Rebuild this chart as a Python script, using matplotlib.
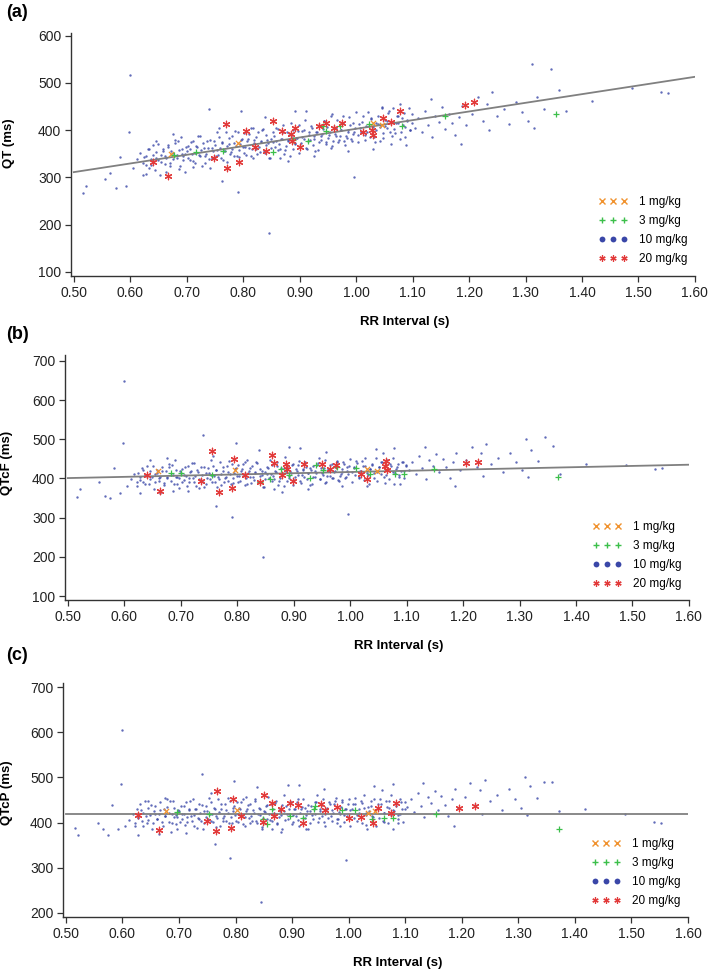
import numpy as np
import matplotlib
matplotlib.use("Agg")
import matplotlib.pyplot as plt
from matplotlib.lines import Line2D

plt.rcParams['font.family'] = ['Liberation Sans', 'DejaVu Sans']

# ---- 10 mg/kg cloud (same RR for all three panels) ----
rr_cloud = [0.516, 0.521, 0.556, 0.565, 0.575, 0.582, 0.592, 0.600, 0.598,
            0.605, 0.612, 0.618, 0.622, 0.628, 0.633, 0.637, 0.641, 0.646, 0.650,
            0.654, 0.658, 0.662, 0.667, 0.671, 0.675, 0.679, 0.683, 0.687, 0.690,
            0.694, 0.697, 0.699, 0.664, 0.627, 0.686, 0.645, 0.676, 0.692,
            0.702, 0.705, 0.708, 0.711, 0.714, 0.717, 0.720, 0.723, 0.726, 0.729,
            0.732, 0.735, 0.738, 0.741, 0.744, 0.747, 0.750, 0.753, 0.756, 0.759,
            0.762, 0.765, 0.768, 0.771, 0.774, 0.777, 0.780, 0.783, 0.786, 0.789,
            0.792, 0.795, 0.798, 0.740, 0.763, 0.790, 0.712, 0.757, 0.797,
            0.801, 0.804, 0.807, 0.810, 0.813, 0.816, 0.819, 0.822, 0.825, 0.828,
            0.831, 0.834, 0.837, 0.840, 0.843, 0.846, 0.849, 0.852, 0.855, 0.858,
            0.861, 0.864, 0.867, 0.870, 0.873, 0.876, 0.879, 0.882, 0.885, 0.888,
            0.891, 0.894, 0.897, 0.899, 0.845, 0.838, 0.865, 0.818, 0.892, 0.880,
            0.902, 0.905, 0.908, 0.911, 0.914, 0.917, 0.920, 0.923, 0.926, 0.929,
            0.932, 0.935, 0.938, 0.941, 0.944, 0.947, 0.950, 0.953, 0.956, 0.959,
            0.962, 0.965, 0.968, 0.971, 0.974, 0.977, 0.980, 0.983, 0.986, 0.989,
            0.992, 0.995, 0.998, 0.912, 0.957, 0.996, 0.925, 0.985,
            1.003, 1.007, 1.011, 1.015, 1.019, 1.023, 1.027, 1.031, 1.035, 1.039,
            1.043, 1.047, 1.051, 1.055, 1.059, 1.063, 1.067, 1.071, 1.075, 1.079,
            1.083, 1.087, 1.091, 1.095, 1.099, 1.030, 1.062, 1.078, 1.045, 1.088,
            1.104, 1.110, 1.116, 1.122, 1.128, 1.134, 1.140, 1.146, 1.152, 1.158,
            1.164, 1.170, 1.176, 1.182, 1.188, 1.194, 1.186, 1.132,
            1.205, 1.215, 1.224, 1.232, 1.241, 1.250, 1.262, 1.271, 1.283, 1.294, 1.236,
            1.305, 1.312, 1.320, 1.333, 1.345, 1.360, 1.372, 1.315,
            1.488, 1.540, 1.553, 1.418]
qt_cloud = [266, 281, 296, 309, 277, 344, 282, 517, 396,
            320, 338, 352, 331, 345, 360, 326, 348, 340, 371,
            333, 355, 345, 364, 330, 352, 372, 342, 358, 385,
            336, 350, 365, 312, 306, 318, 378, 392, 350,
            342, 360, 375, 335, 352, 366, 388, 345, 358, 372,
            330, 350, 362, 380, 342, 356, 368, 395, 348, 362,
            374, 336, 355, 366, 384, 350, 360, 372, 398, 345,
            358, 370, 382, 445, 292, 268, 322, 405, 440,
            352, 365, 378, 392, 345, 360, 372, 385, 350, 364,
            376, 400, 355, 368, 380, 342, 362, 374, 388, 405,
            358, 370, 382, 395, 350, 366, 378, 390, 415, 360,
            372, 384, 398, 352, 183, 428, 340, 405, 440, 335,
            372, 386, 400, 362, 377, 390, 408, 368, 382, 395,
            358, 375, 388, 402, 420, 370, 384, 396, 362, 378,
            391, 405, 374, 388, 400, 415, 368, 384, 396, 410,
            378, 392, 404, 440, 435, 300, 345, 355,
            390, 404, 418, 380, 395, 408, 425, 386, 400, 413,
            378, 394, 408, 420, 440, 388, 402, 416, 430, 396,
            410, 385, 422, 400, 415, 360, 370, 455, 450, 368,
            405, 425, 395, 440, 410, 385, 430, 418, 448, 402,
            435, 415, 390, 428, 452, 410, 370, 465,
            435, 470, 420, 455, 480, 430, 445, 412, 460, 438, 400,
            420, 540, 470, 445, 530, 485, 440, 405,
            490, 480, 478, 462]
qtcf_cloud = [352, 373, 392, 355, 350, 427, 362, 648, 490,
              380, 398, 412, 392, 405, 422, 385, 407, 398, 432,
              390, 413, 400, 420, 383, 405, 428, 393, 410, 446,
              386, 402, 418, 362, 363, 368, 446, 452, 404,
              390, 410, 428, 382, 402, 417, 440, 392, 406, 421,
              375, 397, 410, 430, 387, 402, 415, 446, 392, 407,
              421, 378, 399, 411, 430, 392, 403, 416, 445, 386,
              400, 413, 426, 510, 330, 302, 368, 458, 490,
              392, 406, 420, 436, 383, 400, 413, 427, 388, 403,
              416, 442, 392, 406, 419, 377, 399, 412, 427, 446,
              393, 406, 419, 433, 384, 401, 414, 427, 454, 394,
              406, 419, 434, 384, 200, 472, 372, 448, 480, 366,
              405, 420, 435, 393, 409, 423, 442, 398, 413, 427,
              387, 405, 419, 434, 453, 399, 414, 426, 389, 406,
              420, 435, 401, 416, 429, 445, 394, 411, 423, 438,
              404, 419, 431, 478, 468, 310, 373, 380,
              416, 430, 445, 404, 420, 433, 451, 409, 424, 437,
              400, 416, 430, 443, 464, 409, 423, 437, 451, 415,
              430, 403, 442, 419, 434, 381, 389, 477, 475, 385,
              422, 443, 411, 457, 426, 399, 446, 433, 463, 416,
              449, 428, 402, 441, 465, 421, 380, 481,
              446, 480, 429, 464, 488, 437, 451, 417, 464, 441, 407,
              422, 500, 472, 445, 505, 482, 412, 405,
              435, 425, 426, 438]
qtcp_cloud = [388, 372, 398, 385, 372, 440, 385, 606, 485,
              392, 405, 420, 400, 412, 428, 392, 415, 405, 438,
              398, 420, 408, 428, 392, 414, 434, 402, 420, 448,
              396, 412, 428, 375, 372, 380, 448, 455, 413,
              402, 420, 436, 394, 412, 427, 448, 404, 416, 431,
              388, 408, 421, 440, 399, 413, 426, 455, 404, 419,
              432, 390, 411, 423, 441, 404, 415, 428, 455, 398,
              412, 425, 437, 508, 352, 322, 378, 465, 492,
              404, 418, 432, 446, 396, 412, 425, 438, 400, 415,
              428, 452, 404, 418, 431, 390, 411, 424, 438, 456,
              406, 418, 431, 444, 397, 413, 426, 438, 462, 406,
              419, 431, 445, 397, 225, 478, 386, 457, 484, 380,
              417, 431, 446, 406, 421, 435, 452, 411, 425, 439,
              400, 417, 431, 445, 462, 411, 426, 438, 402, 418,
              432, 446, 414, 428, 441, 455, 407, 423, 435, 449,
              416, 431, 442, 484, 474, 318, 386, 393,
              428, 441, 455, 416, 431, 444, 460, 421, 435, 448,
              412, 428, 441, 453, 472, 421, 434, 448, 461, 427,
              441, 416, 452, 430, 445, 394, 402, 485, 482, 398,
              434, 453, 423, 466, 437, 412, 456, 444, 471, 428,
              459, 440, 414, 452, 474, 433, 392, 488,
              457, 488, 440, 473, 495, 448, 461, 428, 474, 452, 418,
              433, 500, 480, 455, 490, 490, 425, 416,
              418, 402, 398, 430]

# ---- extra 10 mg/kg points in the dense core of the cloud ----
rr_core = [0.622, 0.625, 0.628, 0.631, 0.634, 0.637, 0.640, 0.643, 0.646, 0.649,
           0.652, 0.655, 0.658, 0.661, 0.664, 0.667, 0.670, 0.673, 0.676, 0.679,
           0.682, 0.685, 0.688, 0.691, 0.694, 0.697, 0.700, 0.703, 0.706, 0.709,
           0.712, 0.715, 0.718, 0.721, 0.724, 0.727, 0.730, 0.733, 0.736, 0.739,
           0.742, 0.745, 0.748, 0.751, 0.754, 0.757, 0.760, 0.763, 0.766, 0.769,
           0.772, 0.775, 0.778, 0.781, 0.784, 0.787, 0.790, 0.793, 0.796, 0.799,
           0.802, 0.805, 0.808, 0.811, 0.814, 0.817, 0.820, 0.823, 0.826, 0.829,
           0.832, 0.835, 0.838, 0.841, 0.844, 0.847, 0.850, 0.853, 0.856, 0.859,
           0.862, 0.865, 0.868, 0.871, 0.874, 0.877, 0.880, 0.883, 0.886, 0.889,
           0.892, 0.895, 0.898, 0.901, 0.904, 0.907, 0.910, 0.913, 0.916, 0.919,
           0.922, 0.925, 0.928, 0.931, 0.934, 0.937, 0.940, 0.943, 0.946, 0.949,
           0.952, 0.955, 0.958, 0.961, 0.964, 0.967, 0.970, 0.973, 0.976, 0.979,
           0.982, 0.985, 0.988, 0.991, 0.994, 0.997, 1.000, 1.003, 1.006, 1.009,
           1.012, 1.015, 1.018, 1.021, 1.024, 1.027, 1.030, 1.033, 1.036, 1.039,
           1.042, 1.045, 1.048, 1.051, 1.054, 1.057, 1.060, 1.063, 1.066, 1.069,
           1.072, 1.075, 1.078, 1.081, 1.084, 1.087, 1.090, 1.093, 1.096, 1.099]
qt_core = [305, 344, 326, 359, 319, 339, 368, 315, 353, 336, 304, 347, 359, 329, 341, 369, 323, 356, 338, 380,
           347, 376, 324, 361, 345, 312, 355, 367, 337, 349, 377, 331, 364, 347, 388, 325, 363, 345, 378, 338,
           320, 363, 376, 345, 358, 385, 340, 372, 355, 396, 333, 371, 353, 387, 346, 367, 395, 343, 380, 364,
           393, 348, 381, 363, 405, 341, 380, 361, 395, 354, 375, 403, 351, 389, 372, 340, 382, 395, 364, 377,
           402, 361, 382, 410, 358, 395, 379, 346, 389, 401, 371, 384, 411, 366, 398, 381, 422, 359, 397, 379,
           404, 387, 355, 397, 410, 379, 392, 419, 374, 406, 389, 431, 367, 406, 387, 421, 380, 401, 429, 377,
           388, 400, 428, 382, 415, 397, 439, 375, 414, 396, 429, 389, 409, 438, 385, 423, 406, 374, 416, 429,
           406, 447, 384, 422, 404, 437, 397, 417, 446, 394, 431, 415, 382, 425, 437, 407, 419, 447, 401, 434]
qtcf_core = [380, 414, 397, 427, 390, 408, 433, 385, 419, 403, 373, 411, 422, 394, 405, 430, 389, 418, 401, 438,
             410, 435, 387, 421, 405, 375, 413, 424, 396, 407, 431, 390, 419, 402, 439, 382, 416, 399, 429, 392,
             377, 415, 426, 398, 409, 433, 392, 421, 404, 441, 384, 418, 401, 431, 394, 412, 437, 389, 423, 407,
             435, 394, 423, 406, 443, 386, 420, 403, 433, 396, 414, 439, 391, 425, 409, 379, 417, 428, 400, 411,
             435, 398, 416, 441, 393, 427, 411, 381, 419, 430, 402, 413, 437, 396, 425, 408, 445, 388, 422, 405,
             429, 413, 383, 421, 432, 404, 415, 439, 398, 427, 410, 447, 390, 424, 407, 437, 400, 418, 443, 395,
             406, 417, 441, 400, 429, 412, 449, 392, 426, 409, 439, 402, 420, 445, 397, 431, 415, 385, 423, 434,
             414, 451, 394, 428, 411, 441, 404, 422, 447, 399, 433, 417, 387, 425, 436, 408, 419, 443, 402, 431]
qtcp_core = [392, 429, 410, 442, 403, 422, 448, 398, 433, 417, 386, 426, 437, 408, 419, 445, 401, 431, 414, 453,
             422, 448, 398, 433, 417, 386, 426, 437, 408, 419, 445, 401, 431, 414, 453, 392, 429, 410, 442, 403,
             386, 426, 437, 408, 419, 445, 401, 431, 414, 453, 392, 429, 410, 442, 403, 422, 448, 398, 433, 417,
             445, 401, 431, 414, 453, 392, 429, 410, 442, 403, 422, 448, 398, 433, 417, 386, 426, 437, 408, 419,
             442, 403, 422, 448, 398, 433, 417, 386, 426, 437, 408, 419, 445, 401, 431, 414, 453, 392, 429, 410,
             433, 417, 386, 426, 437, 408, 419, 445, 401, 431, 414, 453, 392, 429, 410, 442, 403, 422, 448, 398,
             408, 419, 445, 401, 431, 414, 453, 392, 429, 410, 442, 403, 422, 448, 398, 433, 417, 386, 426, 437,
             414, 453, 392, 429, 410, 442, 403, 422, 448, 398, 433, 417, 386, 426, 437, 408, 419, 445, 401, 431]

# ---- panel (a) QT, other dose groups ----
a_1mg_rr = [0.672, 0.790, 1.030, 1.046]
a_1mg_y = [349, 373, 415, 410]
a_3mg_rr = [0.677, 0.717, 0.764, 0.852, 0.889, 0.915, 0.941, 0.946, 0.972, 1.022, 1.081, 1.158, 1.354]
a_3mg_y = [348, 354, 356, 354, 380, 376, 408, 399, 409, 414, 408, 430, 435]
a_20mg_rr = [0.641, 0.666, 0.749, 0.770, 0.772, 0.792, 0.805, 0.821, 0.841, 0.853, 0.868, 0.884, 0.887, 0.892,
             0.900, 0.934, 0.947, 0.960, 0.975, 1.013, 1.028, 1.030, 1.047, 1.061, 1.078, 1.192, 1.208]
a_20mg_y = [333, 303, 340, 412, 320, 332, 399, 364, 356, 419, 399, 392, 376, 404,
            364, 408, 416, 404, 416, 396, 401, 390, 426, 417, 440, 453, 460]

# ---- panel (b) QTcF ----
b_1mg_rr = [0.659, 0.796, 1.029, 1.048]
b_1mg_y = [419, 422, 424, 419]
b_3mg_rr = [0.682, 0.701, 0.755, 0.840, 0.858, 0.877, 0.891, 0.928, 0.939, 0.952, 0.977, 1.011, 1.036,
            1.079, 1.096, 1.149, 1.368]
b_3mg_y = [413, 415, 410, 390, 399, 425, 410, 400, 434, 422, 428, 426, 411, 411, 411, 424, 405]
b_20mg_rr = [0.640, 0.663, 0.735, 0.756, 0.768, 0.790, 0.795, 0.813, 0.840, 0.862, 0.866, 0.880, 0.887,
             0.888, 0.898, 0.919, 0.950, 0.964, 0.975, 1.020, 1.030, 1.062, 1.064, 1.066, 1.206, 1.227]
b_20mg_y = [408, 369, 393, 471, 366, 376, 449, 408, 392, 460, 439, 409, 437,
            424, 393, 436, 437, 424, 434, 411, 398, 432, 445, 422, 440, 443]

# ---- panel (c) QTcP ----
c_1mg_rr = [0.677, 0.802, 1.034, 1.047]
c_1mg_y = [426, 428, 421, 426]
c_3mg_rr = [0.697, 0.753, 0.848, 0.855, 0.865, 0.897, 0.919, 0.938, 0.940, 0.988, 1.012, 1.041, 1.063,
            1.078, 1.155, 1.372]
c_3mg_y = [423, 418, 408, 396, 429, 415, 410, 429, 437, 428, 428, 408, 410, 410, 419, 385]
c_20mg_rr = [0.628, 0.664, 0.749, 0.765, 0.768, 0.792, 0.795, 0.809, 0.848, 0.851, 0.864, 0.868, 0.880,
             0.896, 0.911, 0.919, 0.951, 0.959, 0.980, 1.000, 1.021, 1.043, 1.051, 1.074, 1.083, 1.195, 1.223]
c_20mg_y = [417, 384, 404, 381, 471, 387, 452, 415, 401, 462, 443, 415, 429,
            443, 439, 398, 441, 428, 435, 410, 412, 398, 432, 421, 444, 433, 437]

# regression fits (intercept, slope)
fit_a = (219.2, 183.6)
fit_b = (385.5, 31.0)
fit_c = (419.0, 0.0)

dose_labels = ['1 mg/kg', '3 mg/kg', '10 mg/kg', '20 mg/kg']
c_orange = '#f0922e'
c_green = '#3cbf4a'
c_blue = '#3a47a8'
c_red = '#e23a3a'
star = (6, 2, 0)

fig = plt.figure(figsize=(7.09, 9.71), dpi=100)

panels = [
    dict(pos=[0.1001, 0.7158, 0.880, 0.2503], ylim=(91, 606), yticks=range(100, 601, 100),
         ylabel='QT (ms)', cloud=qt_cloud + qt_core, fit=fit_a, tag='(a)', tagy=0.987,
         d1=(a_1mg_rr, a_1mg_y), d3=(a_3mg_rr, a_3mg_y), d20=(a_20mg_rr, a_20mg_y),
         ylc=(-0.0897, 0.547), xlc=(0.535, -0.165), leg=(0.846, 0.329)),
    dict(pos=[0.0917, 0.3821, 0.880, 0.2523], ylim=(90, 715), yticks=range(100, 701, 100),
         ylabel='QTcF (ms)', cloud=qtcf_cloud + qtcf_core, fit=fit_b, tag='(b)', tagy=0.656,
         d1=(b_1mg_rr, b_1mg_y), d3=(b_3mg_rr, b_3mg_y), d20=(b_20mg_rr, b_20mg_y),
         ylc=(-0.083, 0.559), xlc=(0.534, -0.163), leg=(0.846, 0.322)),
    dict(pos=[0.0889, 0.0556, 0.8815, 0.241], ylim=(191, 709), yticks=range(200, 701, 100),
         ylabel='QTcP (ms)', cloud=qtcp_cloud + qtcp_core, fit=fit_c, tag='(c)', tagy=0.325,
         d1=(c_1mg_rr, c_1mg_y), d3=(c_3mg_rr, c_3mg_y), d20=(c_20mg_rr, c_20mg_y),
         ylc=(-0.080, 0.530), xlc=(0.536, -0.171), leg=(0.846, 0.338)),
]

xt = np.round(np.arange(0.5, 1.601, 0.1), 2)
rr_all = rr_cloud + rr_core

for p in panels:
    ax = fig.add_axes(p['pos'])
    ax.scatter(rr_all, p['cloud'], s=3.0, color=c_blue, alpha=0.8, linewidths=0, zorder=2)
    xs = np.array([0.5, 1.6])
    ax.plot(xs, p['fit'][0] + p['fit'][1] * xs, color='#808080', lw=1.3, zorder=3)
    ax.scatter(*p['d1'], marker='x', s=14, color=c_orange, linewidths=0.9, zorder=4)
    ax.scatter(*p['d3'], marker='+', s=18, color=c_green, linewidths=0.9, zorder=4)
    ax.scatter(*p['d20'], marker=star, s=22, color=c_red, linewidths=0.9, zorder=5)

    ax.set_xlim(0.495, 1.6)
    ax.set_ylim(*p['ylim'])
    ax.set_xticks(xt)
    ax.set_xticklabels([f'{v:.2f}' for v in xt])
    ax.set_yticks(list(p['yticks']))
    for s in ['top', 'right']:
        ax.spines[s].set_visible(False)
    for s in ['left', 'bottom']:
        ax.spines[s].set_color('#333333')
        ax.spines[s].set_linewidth(1.0)
    ax.tick_params(direction='out', length=4, width=0.9, colors='#333333',
                   labelsize=10, labelcolor='#222222', pad=3)
    ax.set_ylabel(p['ylabel'], fontsize=9.5, fontweight='bold')
    ax.set_xlabel('RR Interval (s)', fontsize=9.5, fontweight='bold')
    ax.yaxis.set_label_coords(*p['ylc'])
    ax.xaxis.set_label_coords(*p['xlc'])

    handles = [
        Line2D([], [], ls='none', marker='x', color=c_orange, ms=4, mew=1.0),
        Line2D([], [], ls='none', marker='+', color=c_green, ms=4.5, mew=1.0),
        Line2D([], [], ls='none', marker='o', color=c_blue, ms=4.2, mew=0),
        Line2D([], [], ls='none', marker=star, color=c_red, ms=4.5, mew=0.9),
    ]
    ax.legend(handles, dose_labels, loc='upper left', bbox_to_anchor=p['leg'],
              frameon=False, numpoints=3, fontsize=8.5, borderaxespad=0, borderpad=0,
              handlelength=2.4, handletextpad=1.0, labelspacing=0.6)

    fig.text(0.008, p['tagy'], p['tag'], fontsize=13, fontweight='bold', va='center', ha='left')

fig.savefig('out.png', dpi=100)
